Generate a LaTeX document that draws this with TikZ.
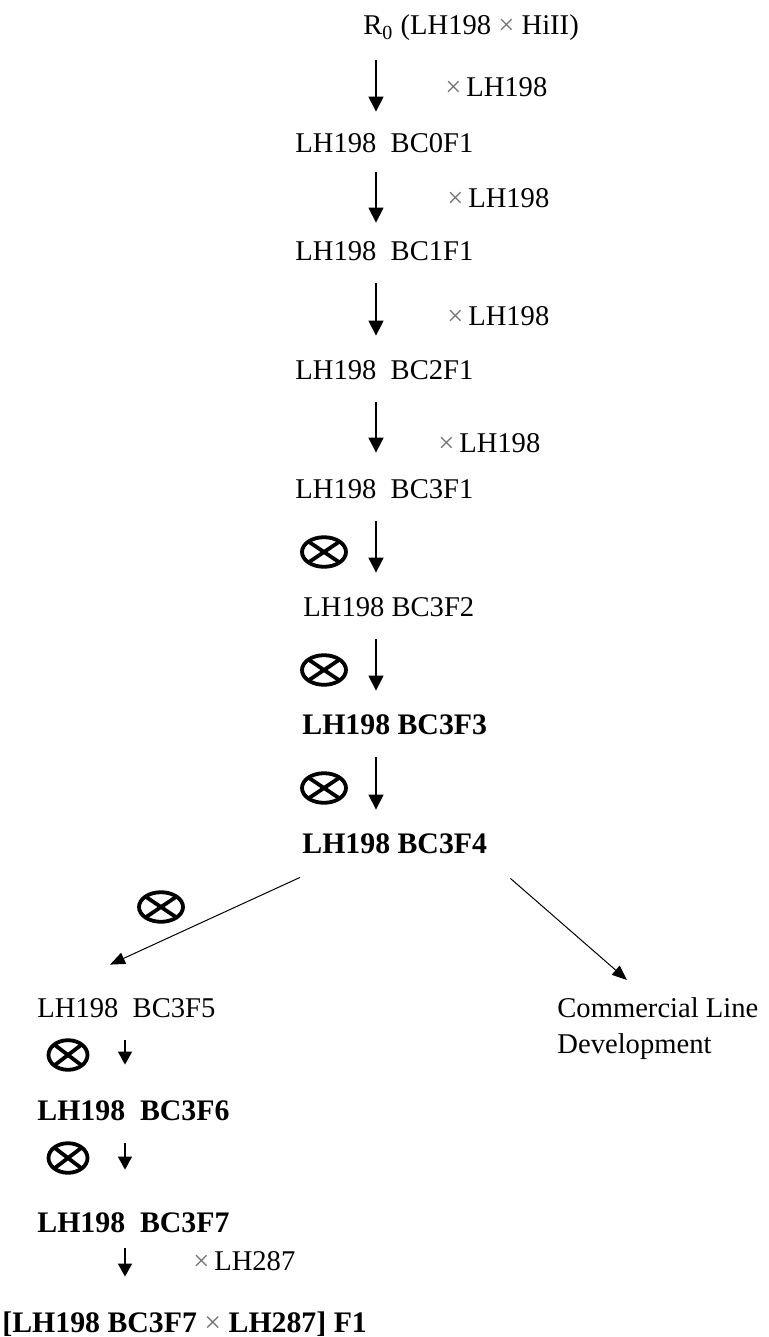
\documentclass[tikz,border=0pt]{standalone}
\usepackage{fontspec}
\setmainfont{Liberation Serif}
\usetikzlibrary{shapes.geometric, arrows.meta, positioning}

\newcommand\bfline{\fontsize{14.9}{16}\selectfont\bfseries}

\tikzset{
  genarrow/.style={-{Triangle[length=7.5pt,width=7.5pt]}, line width=0.65pt,
    shorten <=11.5pt, shorten >=12.5pt},
  smallarrow/.style={-{Triangle[length=6.5pt,width=7pt]}, line width=0.65pt,
    shorten <=11.5pt, shorten >=18.5pt},
  branch/.style={-{Triangle[length=7.5pt,width=6pt]}, line width=0.5pt},
  selfing/.style={draw, ellipse, line width=1.9pt, inner sep=0,
    minimum width=22pt, minimum height=14.8pt,
    path picture={\draw[line width=1.9pt]
      (path picture bounding box.north west) -- (path picture bounding box.south east)
      (path picture bounding box.south west) -- (path picture bounding box.north east);}}
}

\begin{document}
\begin{tikzpicture}[x=0.5pt, y=-0.5pt, font=\fontsize{14.3}{16}\selectfont]
        \useasboundingbox (0,0) rectangle (768,1337);
        \coordinate (axis) at (376,0);
        \coordinate (axisb) at (125,0);
        \begin{scope}[every node/.style={inner sep=0, text height=9pt, text depth=0pt, anchor=base west}]
          \node (r0) at (363,35) {R\textsubscript{0} (LH198 {\color{black!55}×} HiII)};
          \node (xa) at (445,97) {{\color{black!55}×}\,LH198};
          \node (bc0) at (295,153) {LH198\ \ BC0F1};
          \node (xb) at (447,207) {{\color{black!55}×}\,LH198};
          \node (bc1) at (295,260) {LH198\ \ BC1F1};
          \node (xc) at (447,325) {{\color{black!55}×}\,LH198};
          \node (bc2) at (295,379) {LH198\ \ BC2F1};
          \node (xd) at (438,452) {{\color{black!55}×}\,LH198};
          \node (bc3f1) at (295,498) {LH198\ \ BC3F1};
          \node (bc3f2) at (303,616) {LH198 BC3F2};
          \node (bc3f3) at (302,734) {\bfline LH198 BC3F3};
          \node (bc3f4) at (302,853) {\bfline LH198 BC3F4};
          \node (bc3f5) at (37,1017) {LH198\ \ BC3F5};
          \node (bc3f6) at (37,1120) {\bfline LH198\ \ BC3F6};
          \node (bc3f7) at (37,1232) {\bfline LH198\ \ BC3F7};
          \node (xe) at (193,1270) {{\color{black!55}×}\,LH287};
          \node (f1) at (2,1332) {\bfline [LH198 BC3F7 {\color{black!55}\mdseries×} LH287] F1};
        \end{scope}
        \node[align=left, inner sep=0, anchor=north west,
          font=\fontsize{14.3}{18}\selectfont] (comm) at (557,997) {Commercial Line\\Development};
        % selfing generations
        \node[selfing] (sa) at (324,552) {};
        \node[selfing] (sb) at (324,670) {};
        \node[selfing] (sc) at (324,788) {};
        \node[selfing] (sd) at (161,907) {};
        \node[selfing, minimum width=19.5pt] (se) at (68,1055) {};
        \node[selfing, minimum width=19.5pt] (sf) at (68,1158) {};
        % backcross arrows
        \draw[genarrow, shorten <=12.5pt, shorten >=11.5pt] (r0.south -| axis) -- (bc0.north -| axis);
        \draw[genarrow, shorten <=9.5pt, shorten >=9.5pt] (bc0.south -| axis) -- (bc1.north -| axis);
        \draw[genarrow] (bc1.south -| axis) -- (bc2.north -| axis);
        \draw[genarrow, shorten >=13.5pt] (bc2.south -| axis) -- (bc3f1.north -| axis);
        \draw[genarrow] (bc3f1.south -| axis) -- (bc3f2.north -| axis);
        \draw[genarrow] (bc3f2.south -| axis) -- (bc3f3.north -| axis);
        \draw[genarrow] (bc3f3.south -| axis) -- (bc3f4.north -| axis);
        % split
        \draw[branch] ([shift={(-1pt,-12pt)}]bc3f4.south west) -- ([shift={(36.5pt,17pt)}]bc3f5.north west);
        \draw[branch] ([shift={(11.5pt,-12.5pt)}]bc3f4.south east) -- ([shift={(35pt,8.5pt)}]comm.north west);
        \draw[smallarrow] (bc3f5.south -| axisb) -- (bc3f6.north -| axisb);
        \draw[smallarrow, shorten >=22pt] (bc3f6.south -| axisb) -- (bc3f7.north -| axisb);
        \draw[smallarrow, shorten <=8pt] (bc3f7.south -| axisb) -- (f1.north -| axisb);
      \end{tikzpicture}
\end{document}
